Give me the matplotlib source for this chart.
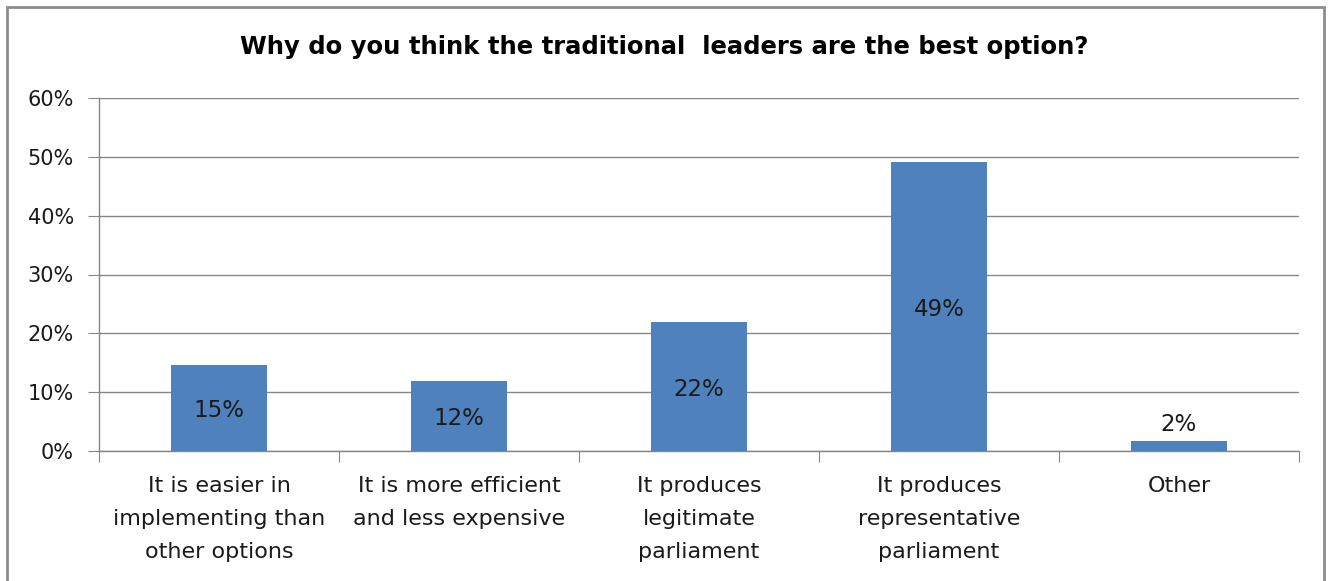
import matplotlib
matplotlib.use("Agg")
import matplotlib.pyplot as plt
from matplotlib.patches import Rectangle
from matplotlib.ticker import FuncFormatter, MultipleLocator

plt.rcParams['font.family'] = ['DejaVu Sans']

title = "Why do you think the traditional  leaders are the best option?"
categories = [
    "It is easier in\nimplementing than\nother options",
    "It is more efficient\nand less expensive",
    "It produces\nlegitimate\nparliament",
    "It produces\nrepresentative\nparliament",
    "Other",
]
shares = [14.7, 11.9, 22.0, 49.2, 1.7]
y_max = 60
y_step = 10

bar_color = "#4F81BD"
grid_color = "#868686"
text_color = "#1a1a1a"

fig = plt.figure(figsize=(13.28, 5.81), dpi=100)
fig.patch.set_facecolor("white")
ax = fig.add_axes([99 / 1328, 1 - 451 / 581, 1200 / 1328, (451 - 98) / 581])

x = list(range(len(categories)))
bars = ax.bar(x, shares, width=0.4, color=bar_color, zorder=3)

ax.set_xlim(-0.5, len(categories) - 0.5)
ax.set_ylim(0, y_max)
ax.yaxis.set_major_locator(MultipleLocator(y_step))
ax.yaxis.set_major_formatter(FuncFormatter(lambda v, _: f"{v:.0f}%"))
ax.grid(axis="y", color=grid_color, linewidth=1.0, zorder=0)

for side in ("top", "right"):
    ax.spines[side].set_visible(False)
for side in ("left", "bottom"):
    ax.spines[side].set_color(grid_color)
    ax.spines[side].set_linewidth(1.0)

ax.tick_params(axis="y", length=8, color=grid_color, labelsize=15,
               labelcolor=text_color, pad=10)
# category tick marks sit on the boundaries between groups
ax.set_xticks([i - 0.5 for i in range(len(categories) + 1)], minor=False)
ax.set_xticklabels([])
ax.tick_params(axis="x", which="major", length=8, color=grid_color)
ax.set_xticks(x, minor=True)
ax.set_xticklabels(categories, minor=True, fontsize=16, color=text_color,
                   linespacing=1.8)
ax.tick_params(axis="x", which="minor", length=0, pad=18)

for rect, v in zip(bars, shares):
    label = f"{v:.0f}%"
    cx = rect.get_x() + rect.get_width() / 2
    if v >= 5:
        ax.text(cx, v / 2 - 0.5, label, ha="center", va="center", fontsize=16.5,
                color=text_color, zorder=4)
    else:
        ax.text(cx, v + 0.8, label, ha="center", va="bottom", fontsize=16.5,
                color=text_color, zorder=4)

fig.text(664 / 1328, 1 - 47 / 581, title, ha="center", va="center",
         fontsize=17.5, fontweight="bold", color="black")

# outer chart frame
fig.patches.append(Rectangle((7 / 1328, -0.05), (1324 - 7) / 1328, 1.05 - 7 / 581,
                             transform=fig.transFigure, fill=False,
                             edgecolor="#8c8c8c", linewidth=2.0))

fig.savefig("out.png", dpi=100)
